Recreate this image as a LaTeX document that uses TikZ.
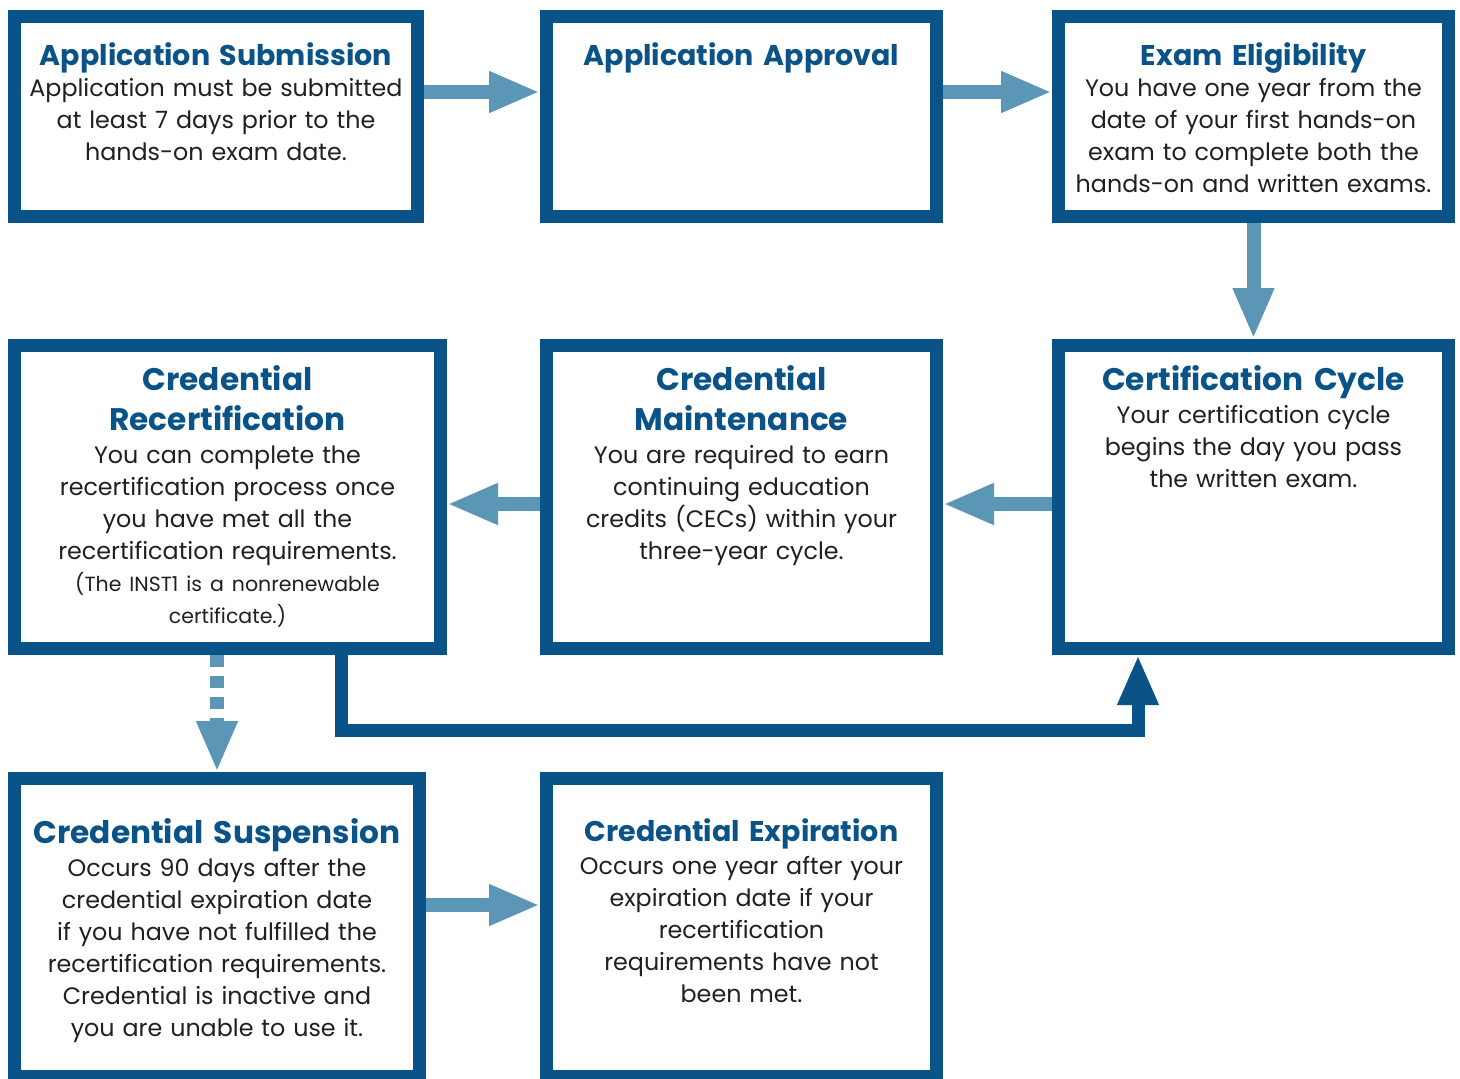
\documentclass[tikz,border=0pt]{standalone}
\usepackage{fontspec}
\setmainfont{Poppins}
\usetikzlibrary{arrows.meta,positioning}
\definecolor{frame}{HTML}{0A5388}
\definecolor{flow}{HTML}{5B96B7}
\definecolor{ink}{HTML}{231F20}
\tikzset{
  stage/.style={draw=frame, line width=13pt, fill=white, inner sep=0pt},
  ttl/.style={text=frame, font=\fontsize{28.5}{40}\selectfont\bfseries, text width=430pt, align=center, anchor=base, inner sep=0pt},
  bigttl/.style={ttl, font=\fontsize{31.2}{40}\selectfont\bfseries},
  txt/.style={text=ink, font=\fontsize{23.8}{32}\selectfont, text width=430pt, align=center, anchor=base, inner sep=0pt},
  flowarr/.style={draw=flow, line width=14pt, -{Triangle[length=51pt,width=38pt]}},
  backarr/.style={draw=frame, line width=13pt, -{Triangle[length=50pt,width=38pt]}},
}
\begin{document}
\begin{tikzpicture}[x=1pt,y=-1pt]
  \useasboundingbox (0,0) rectangle (1460,1079);
  % top row
  \node[stage, minimum width=403pt, minimum height=200pt] (sub) at (216,116.5) {};
  \node[stage, minimum width=390pt, minimum height=200pt] (appr) at (741.5,116.5) {};
  \node[stage, minimum width=390pt, minimum height=200pt] (elig) at (1253.5,116.5) {};
  % middle row
  \node[stage, minimum width=426pt, minimum height=303pt] (recert) at (227.5,497) {};
  \node[stage, minimum width=390pt, minimum height=303pt] (maint) at (741.5,497) {};
  \node[stage, minimum width=390pt, minimum height=303pt] (cyc) at (1253.5,497) {};
  % bottom row
  \node[stage, minimum width=405pt, minimum height=298pt] (susp) at (217,927.5) {};
  \node[stage, minimum width=390pt, minimum height=298pt] (expir) at (741.5,927.5) {};

  \node[ttl] (sub-t) at ([yshift=-55pt]sub.north) {Application Submission};
  \node[txt] (sub-b) at ([yshift=-86pt]sub.north) {Application must be submitted\\at least 7 days prior to the\\hands-on exam date.};
  \node[ttl] (appr-t) at ([yshift=-55pt]appr.north) {Application Approval};
  \node[ttl] (elig-t) at ([yshift=-55pt]elig.north) {Exam Eligibility};
  \node[txt] (elig-b) at ([yshift=-86pt]elig.north) {You have one year from the\\date of your first hands-on\\exam to complete both the\\hands-on and written exams.};

  \node[bigttl] (recert-t) at ([yshift=-51pt]recert.north) {Credential\\Recertification};
  \node[txt] (recert-b) at ([yshift=-124pt]recert.north) {You can complete the\\recertification process once\\you have met all the\\recertification requirements.\\\fontsize{20.5}{32}\selectfont(The INST1 is a nonrenewable\\certificate.)};
  \node[bigttl] (maint-t) at ([yshift=-51pt]maint.north) {Credential\\Maintenance};
  \node[txt] (maint-b) at ([yshift=-124pt]maint.north) {You are required to earn\\continuing education\\credits (CECs) within your\\three-year cycle.};
  \node[bigttl] (cyc-t) at ([yshift=-51pt]cyc.north) {Certification Cycle};
  \node[txt] (cyc-b) at ([yshift=-84pt]cyc.north) {Your certification cycle\\begins the day you pass\\the written exam.};

  \node[bigttl] (susp-t) at ([yshift=-71pt]susp.north) {Credential Suspension};
  \node[txt] (susp-b) at ([yshift=-104pt]susp.north) {Occurs 90 days after the\\credential expiration date\\if you have not fulfilled the\\recertification requirements.\\Credential is inactive and\\you are unable to use it.};
  \node[ttl] (expir-t) at ([yshift=-69pt]expir.north) {Credential Expiration};
  \node[txt] (expir-b) at ([yshift=-102pt]expir.north) {Occurs one year after your\\expiration date if your\\recertification\\requirements have not\\been met.};

  % connectors
  \draw[flowarr] ([yshift=24.5pt]sub.east) -- ([yshift=24.5pt]appr.west);
  \draw[flowarr] ([yshift=24.5pt]appr.east) -- ([yshift=24.5pt]elig.west);
  \draw[flowarr] (elig.south) -- (cyc.north);
  \draw[flowarr] ([yshift=-7pt]cyc.west) -- ([yshift=-7pt]maint.east);
  \draw[flowarr] ([yshift=-7pt]maint.west) -- ([yshift=-7pt]recert.east);
  \draw[flowarr, dash pattern=on 12pt off 9pt] (recert.south -| susp.north) -- (susp.north);
  \draw[flowarr] ([yshift=22.5pt]susp.east) -- ([yshift=22.5pt]expir.west);
  \draw[backarr] ([xshift=113.5pt]recert.south) -- ++(0,75) -| ([xshift=-115.5pt]cyc.south);
\end{tikzpicture}
\end{document}
